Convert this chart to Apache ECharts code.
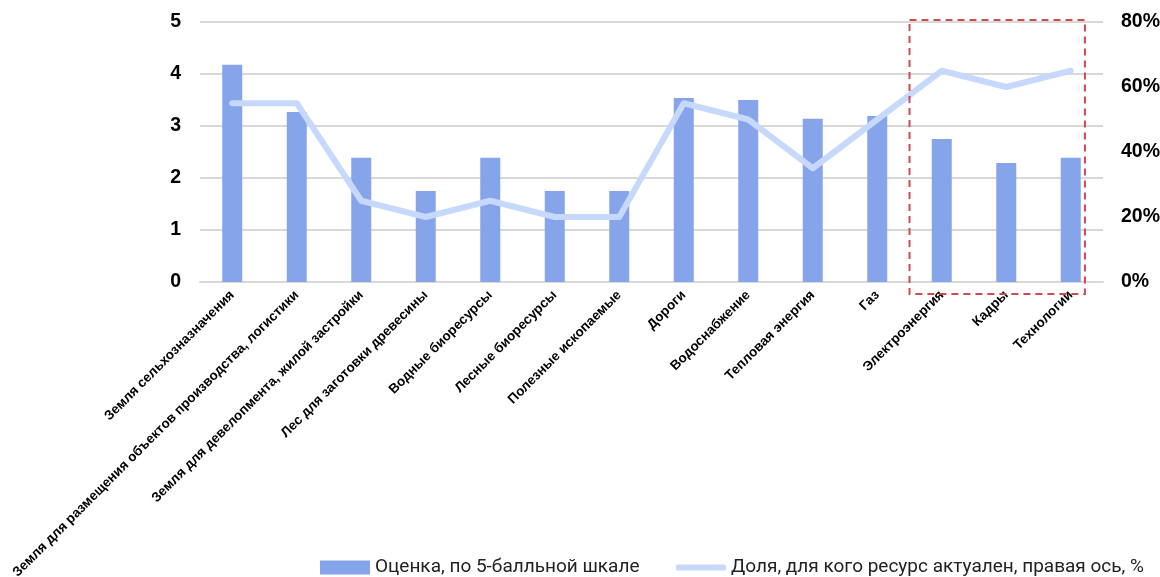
<!DOCTYPE html>
<html><head><meta charset="utf-8">
<script src="https://cdn.jsdelivr.net/npm/echarts@6/dist/echarts.min.js"></script>
<style>html,body{margin:0;padding:0;background:#fff}#c{width:1160px;height:577px}</style>
</head><body><div id="c"></div>
<script>
var categories = ["Земля сельхозназначения","Земля для размещения объектов производства, логистики","Земля для девелопмента, жилой застройки","Лес для заготовки древесины","Водные биоресурсы","Лесные биоресурсы","Полезные ископаемые","Дороги","Водоснабжение","Тепловая энергия","Газ","Электроэнергия","Кадры","Технологии"];
var scores = [4.18, 3.27, 2.39, 1.75, 2.39, 1.75, 1.75, 3.54, 3.5, 3.14, 3.19, 2.75, 2.29, 2.39];
var shares = [0.55, 0.55, 0.25, 0.20, 0.25, 0.20, 0.20, 0.55, 0.50, 0.35, 0.50, 0.65, 0.60, 0.65];
var seriesNames = ["Оценка, по 5-балльной шкале", "Доля, для кого ресурс актуален, правая ось, %"];
var highlightFrom = 11, highlightTo = 13;

var axisFont = "'Liberation Sans',Arimo,Arial,sans-serif";
var legendText = {fontFamily: "'Liberation Sans Narrow','Roboto','Noto Sans',sans-serif", fontSize: 19, color: '#222'};
var chart = echarts.init(document.getElementById('c'));
var option = {
  animation: false,
  grid: {left: 200, right: 57, top: 22, bottom: 295, containLabel: false, outerBoundsMode: 'none'},
  legend: [{
    top: 558, left: 320, padding: 0, itemWidth: 50, itemHeight: 14, itemGap: 8,
    textStyle: legendText,
    data: [{name: seriesNames[0], icon: 'rect'}]
  }, {
    top: 558, left: 676, padding: 0, itemWidth: 50, itemHeight: 6, itemGap: 8,
    textStyle: legendText,
    data: [{name: seriesNames[1], icon: 'roundRect'}]
  }],
  xAxis: {
    type: 'category', data: categories,
    axisTick: {show: false},
    axisLine: {lineStyle: {color: '#d9d9d9', width: 2}},
    axisLabel: {interval: 0, rotate: 45, margin: 11, fontSize: 13.5, fontWeight: 'bold', color: '#000', fontFamily: axisFont}
  },
  yAxis: [{
    type: 'value', min: 0, max: 5, interval: 1,
    axisLine: {show: false}, axisTick: {show: false},
    splitLine: {lineStyle: {color: '#d9d9d9', width: 2}},
    axisLabel: {margin: 19, fontSize: 19.5, fontWeight: 'bold', color: '#000', fontFamily: axisFont}
  }, {
    type: 'value', min: 0, max: 0.8, interval: 0.2,
    axisLine: {show: false}, axisTick: {show: false}, splitLine: {show: false},
    axisLabel: {margin: 18, fontSize: 19.5, fontWeight: 'bold', color: '#000', fontFamily: axisFont,
      formatter: function (v) { return Math.round(v * 100) + '%'; }}
  }],
  series: [{
    name: seriesNames[0], type: 'bar', data: scores, barWidth: 20, yAxisIndex: 0,
    itemStyle: {color: '#85a4e9'}
  }, {
    name: seriesNames[1], type: 'line', data: shares, yAxisIndex: 1,
    symbol: 'none', lineStyle: {width: 6, color: '#c6d9fc', cap: 'round', join: 'round'},
    itemStyle: {color: '#c6d9fc'}
  }]
};
chart.setOption(option);

var p0 = chart.convertToPixel({xAxisIndex: 0, yAxisIndex: 0}, [highlightFrom, 5]);
var p1 = chart.convertToPixel({xAxisIndex: 0, yAxisIndex: 0}, [highlightTo, 0]);
var pPrev = chart.convertToPixel({xAxisIndex: 0}, highlightFrom - 1);
var band = p0[0] - pPrev;
chart.setOption({
  graphic: [{
    type: 'rect', z: 100,
    shape: {x: p0[0] - band / 2, y: p0[1] - 2, width: (p1[0] + band * 0.22) - (p0[0] - band / 2), height: (p1[1] + 12) - (p0[1] - 2)},
    style: {fill: 'none', stroke: '#cc4b4e', lineWidth: 2, lineDash: [7, 5]}
  }]
});
</script></body></html>
